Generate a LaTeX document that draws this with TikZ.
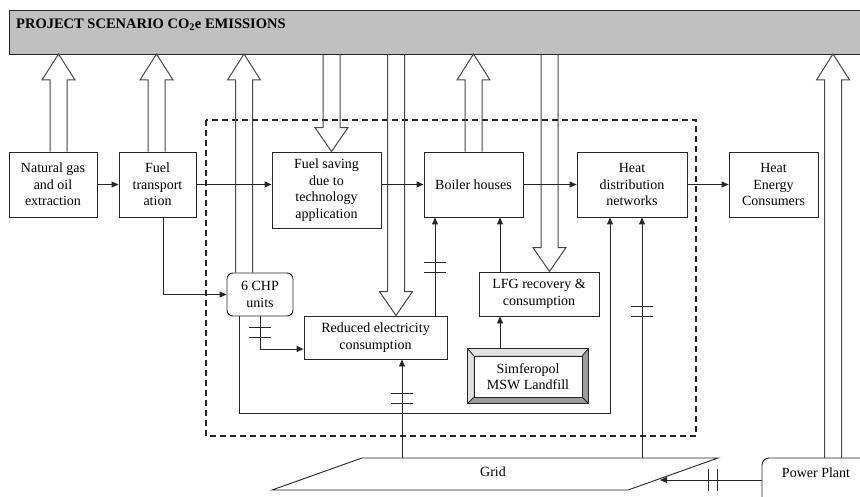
\documentclass[tikz,border=0pt]{standalone}
\usepackage{fontspec}
\setmainfont{Liberation Serif}
\usepackage{xcolor}
\usetikzlibrary{calc,arrows.meta}
\definecolor{bannerbg}{HTML}{C0C0C0}
\definecolor{ink}{HTML}{262626}
\definecolor{bevdark}{HTML}{9C9C9C}
\definecolor{bevlight}{HTML}{E2E2E2}
\tikzset{
  box/.style={draw=ink, line width=0.9pt, align=center, inner sep=0pt, font=\fontsize{14}{16.5}\selectfont},
  conn/.style={draw=ink, line width=0.9pt, -{Triangle[length=7pt,width=6pt]}},
  plain/.style={draw=ink, line width=0.9pt},
  fat/.style={draw=ink!85, line width=1pt, line join=miter},
  boundary/.style={draw=ink, line width=1.4pt, dash pattern=on 6pt off 4pt},
}
% block arrows: first argument sits on the banner, second on the box
\newcommand\fatup[2]{%
  \draw[fat] ($(#1 |- #2)+(-8.5,0)$) -- ($(#1)+(-8.5,26)$) -- ($(#1)+(-16.5,26)$) -- (#1)
    -- ($(#1)+(16.5,26)$) -- ($(#1)+(8.5,26)$) -- ($(#1 |- #2)+(8.5,0)$);}
\newcommand\fatdown[2]{%
  \draw[fat] ($(#1)+(-8.5,0)$) -- ($(#1 |- #2)+(-8.5,-24)$) -- ($(#1 |- #2)+(-16.5,-24)$) -- (#1 |- #2)
    -- ($(#1 |- #2)+(16.5,-24)$) -- ($(#1 |- #2)+(8.5,-24)$) -- ($(#1)+(8.5,0)$);}
% electric line marks
\newcommand\hbars[1]{\draw[plain] ($(#1)+(-11,-5)$) -- ++(22,0) ($(#1)+(-11,5)$) -- ++(22,0);}
\newcommand\vbars[1]{\draw[plain] ($(#1)+(-4.5,-11)$) -- ++(0,22) ($(#1)+(4.5,-11)$) -- ++(0,22);}

\begin{document}
\begin{tikzpicture}[x=1pt, y=-1pt]
  \useasboundingbox (0,0) rectangle (860,497);

  % banner
  \node[draw=ink, line width=0.9pt, fill=bannerbg, anchor=north west, minimum width=870, minimum height=44, inner sep=0pt] (banner) at (9,10) {};
  \node[anchor=west, inner sep=0pt, font=\bfseries\fontsize{14.5}{16}\selectfont] (title) at (16,25) {PROJECT SCENARIO CO\textsubscript{2}e EMISSIONS};

  % project boundary
  \draw[boundary] (206,120) rectangle (696,436);

  % boxes
  \node[box, minimum width=88, minimum height=65] (nat) at (53,184.5) {Natural gas\\and oil\\extraction};
  \node[box, minimum width=77, minimum height=65] (fuel) at (157.5,184.5) {Fuel\\transport\\ation};
  \node[box, minimum width=109, minimum height=76] (save) at (326.5,190) {Fuel saving\\due to\\technology\\application};
  \node[box, minimum width=99, minimum height=65] (boil) at (473.5,184.5) {Boiler houses};
  \node[box, minimum width=110, minimum height=65] (heat) at (632,184.5) {Heat\\distribution\\networks};
  \node[box, minimum width=89, minimum height=65] (cons) at (773.5,184.5) {Heat\\Energy\\Consumers};
  \node[box, rounded corners=6pt, minimum width=66, minimum height=43] (chp) at (260,294.5) {6 CHP\\units};
  \node[box, minimum width=143, minimum height=43] (elec) at (375.5,337.5) {Reduced electricity\\consumption};
  \node[box, minimum width=120, minimum height=44] (lfg) at (539,294) {LFG recovery \&\\consumption};

  % landfill with bevel
  \node[plain, fill=bevdark, minimum width=120, minimum height=54, inner sep=0pt] (landout) at (528,376) {};
  \fill[bevlight] (landout.north west) -- (landout.north east) -- ($(landout.north east)+(-6,7)$)
    -- ($(landout.north west)+(6,7)$) -- ($(landout.south west)+(6,-6)$) -- (landout.south west) -- cycle;
  \draw[plain] (landout.north west) rectangle (landout.south east);
  \draw[plain] (landout.north west) -- ++(6,7) (landout.north east) -- ++(-6,7)
    (landout.south west) -- ++(6,-6) (landout.south east) -- ++(-6,-6);
  \node[box, fill=white, minimum width=108, minimum height=41] (land) at (528,376.5) {Simferopol\\MSW Landfill};

  % grid and power plant
  \draw[plain, fill=white] (272,490) -- (362,458) -- (718,458) -- (628,490) -- cycle;
  \node[font=\fontsize{14}{16}\selectfont] (grid) at (493,472) {Grid};
  \draw[plain, rounded corners=7pt] (762,505) -- (762,458) -- (880,458);
  \node[font=\fontsize{14}{16}\selectfont] (pp) at (816,473) {Power Plant};
  \coordinate (pptop) at (800,458);
  \coordinate (ppout) at (762,480);
  \coordinate (gin) at (660,480);
  \coordinate (gout1) at (402,458);
  \coordinate (gout2) at (642,458);

  % block arrows to and from the banner
  \coordinate (t1) at (58.5,54);
  \coordinate (t2) at (156.5,54);
  \coordinate (t3) at (244,54);
  \coordinate (t4) at (331.5,54);
  \coordinate (t5) at (396,54);
  \coordinate (t6) at (473.5,54);
  \coordinate (t7) at (549.5,54);
  \coordinate (t8) at (833,54);
  \fatup{t1}{nat.north}
  \fatup{t2}{fuel.north}
  \fatup{t3}{chp.north}
  \fatdown{t4}{save.north}
  \fatdown{t5}{elec.north}
  \fatup{t6}{boil.north}
  \fatdown{t7}{lfg.north}
  \fatup{t8}{pptop}

  % flows
  \draw[conn] (nat) -- (fuel);
  \draw[conn] (fuel.east) -- (fuel.east -| save.west);
  \draw[conn] (save.east |- boil.west) -- (boil.west);
  \draw[conn] (boil) -- (heat);
  \draw[conn] (heat) -- (cons);
  \draw[conn] ([xshift=5.5pt]fuel.south) |- (chp.west);
  \draw[conn] (chp.south) |- ([yshift=-11.5pt]elec.west);
  \draw[conn] ([xshift=-21pt]chp.south) -- ++(0,97) -| ([xshift=-22pt]heat.south);
  \draw[conn] ([xshift=59.5pt]elec.north) -- ([xshift=59.5pt]elec.north |- boil.south);
  \draw[conn] ([xshift=-39pt]lfg.north) -- ([xshift=-39pt]lfg.north |- boil.south);
  \draw[conn] ([xshift=-28pt]landout.north) -- ([xshift=-28pt]landout.north |- lfg.south);
  \draw[conn] (gout1) -- (gout1 |- elec.south);
  \draw[conn] (gout2) -- (gout2 |- heat.south);
  \draw[conn] (ppout) -- (gin);

  % electricity marks
  \hbars{260,332.5}
  \hbars{435,267.5}
  \hbars{402,398}
  \hbars{642,311}
  \vbars{712.5,480}
\end{tikzpicture}
\end{document}
